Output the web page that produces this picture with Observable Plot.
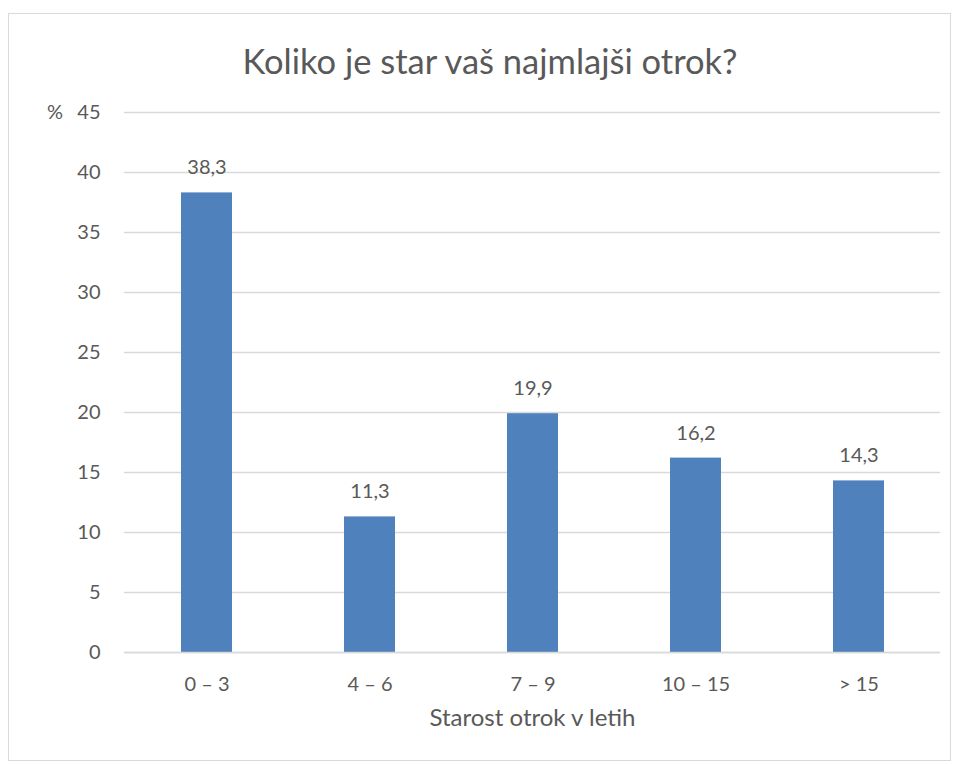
<!DOCTYPE html>
<html><head><meta charset="utf-8">
<script src="https://cdn.jsdelivr.net/npm/d3@7"></script>
<script src="https://cdn.jsdelivr.net/npm/@observablehq/plot@0.6"></script>
<style>
body{margin:0;background:#fff;font-family:Lato,"Noto Sans",sans-serif;}
#wrap{position:relative;width:956px;height:764px;overflow:hidden;}
#frame{position:absolute;left:8px;top:13px;width:941px;height:746px;border:1px solid #d9d9d9;pointer-events:none;}
#title{position:absolute;left:0;top:0;width:980px;height:90px;text-align:center;font-size:34.5px;line-height:1;color:#595959;}
#title span{position:absolute;left:0;right:0;top:44px;}
#chart{position:absolute;left:0;top:90px;}
</style></head>
<body><div id="wrap"><div id="title"><span>Koliko je star vaš najmlajši otrok?</span></div><div id="chart"></div><div id="frame"></div></div>
<script>
const categories = ["0 – 3", "4 – 6", "7 – 9", "10 – 15", "> 15"];
const values = [38.3, 11.3, 19.9, 16.2, 14.3];
const yTicks = [0, 5, 10, 15, 20, 25, 30, 35, 40, 45];
const xLabel = "Starost otrok v letih";
const yUnit = "%";

const data = categories.map((c, i) => ({cat: c, v: values[i]}));
const fmt = d => d3.format(".1f")(d).replace(".", ",");
const textColor = "#595959";
const fs = 20;

const chart = Plot.plot({
  width: 956,
  height: 674,
  marginTop: 22,
  marginBottom: 112,
  marginLeft: 124,
  marginRight: 16,
  style: {fontFamily: "Lato, 'Noto Sans', sans-serif", fontSize: fs + "px", color: textColor, background: "transparent"},
  x: {domain: categories, paddingInner: 0.6875, paddingOuter: 0.34375, align: 0.5, label: null},
  y: {domain: [0, 45], label: null},
  marks: [
    Plot.gridY(yTicks, {stroke: "#d9d9d9", strokeOpacity: 1, strokeWidth: 1.3}),
    Plot.barY(data, {x: "cat", y: "v", fill: "#4f81bd", insetLeft: 0, insetRight: 0}),
    Plot.ruleY([0], {stroke: "#d9d9d9", strokeWidth: 1.5}),
    Plot.text(data, {x: "cat", y: "v", text: d => fmt(d.v), dy: -25, fontSize: fs, fill: textColor}),
    Plot.axisX({tickSize: 0, tickPadding: 24, fontSize: fs, fill: textColor, label: null}),
    Plot.axisY(yTicks, {tickSize: 0, tickPadding: 24, fontSize: fs, fill: textColor, label: null}),
    Plot.text([xLabel], {frameAnchor: "bottom", dy: 73, fontSize: 24, fill: textColor}),
    Plot.text([yUnit], {x: () => categories[0], y: 45, dx: -152, fontSize: fs, fill: textColor})
  ]
});
document.getElementById("chart").appendChild(chart);
</script></body></html>
